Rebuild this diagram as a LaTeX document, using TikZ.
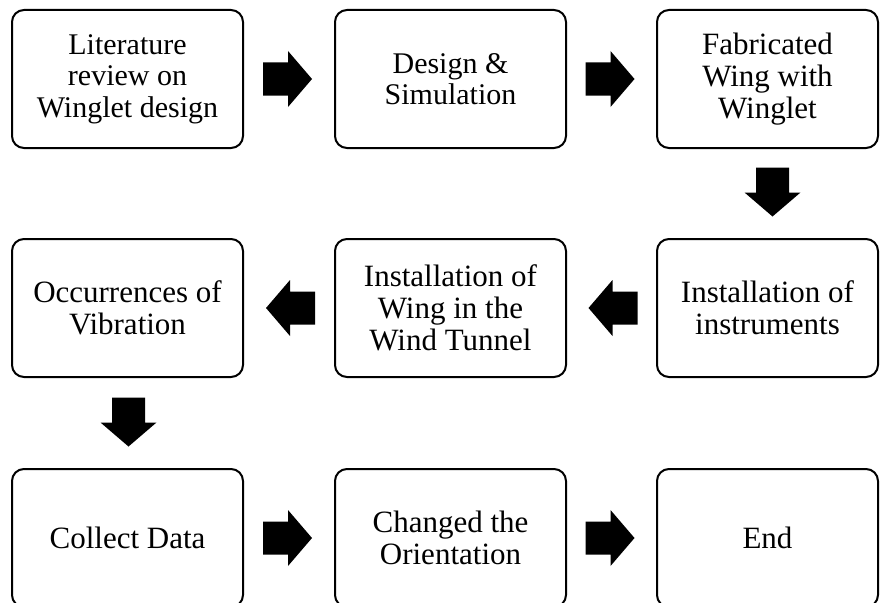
\documentclass[tikz,border=0pt]{standalone}
\usepackage{fontspec}
\setmainfont{Liberation Serif}
\usetikzlibrary{calc}

\tikzset{
  stage/.style={draw, line width=2pt, rounded corners=12pt, minimum width=231pt,
    minimum height=138pt, inner sep=0pt, align=center,
    font=\fontsize{31}{32}\selectfont},
  small/.style={font=\fontsize{30}{31.5}\selectfont},
  blockarrow/.pic={
    \fill (-24.5,-16.5) -- (0.5,-16.5) -- (0.5,-28) -- (24.5,0) -- (0.5,28)
      -- (0.5,16.5) -- (-24.5,16.5) -- cycle;
  }
}

\begin{document}
\begin{tikzpicture}[x=1pt,y=-1pt]
  \useasboundingbox (0,0) rectangle (880,602);

  % first row
  \node [stage,small] (lit) at (127.5,79) {Literature\\review on\\Winglet design};
  \node [stage,small] (design) at (450.5,79) {Design \&\\Simulation};
  \node [stage,minimum width=221pt] (fab) at (767.5,79) {Fabricated\\Wing with\\Winglet};

  % second row
  \node [stage,minimum width=221pt] (instr) at (767.5,308) {Installation of\\instruments};
  \node [stage] (wing) at (450.5,308) {Installation of\\Wing in the\\Wind Tunnel};
  \node [stage] (vib) at (127.5,308) {Occurrences of\\Vibration};

  % third row
  \node [stage] (data) at (127.5,538) {Collect Data};
  \node [stage] (orient) at (450.5,538) {Changed the\\Orientation};
  \node [stage,minimum width=221pt] (finish) at (767.5,538) {End};

  % arrows
  \pic at ($(lit.east)!0.5!(design.west)+(-1.5,0)$) {blockarrow};
  \pic at ($(design.east)!0.5!(fab.west)+(-1.5,0)$) {blockarrow};
  \pic [rotate=-90] at ($(fab.south)!0.5!(instr.north)+(5,-1.5)$) {blockarrow};
  \pic [rotate=180] at ($(instr.west)!0.5!(wing.east)+(1.5,0)$) {blockarrow};
  \pic [rotate=180] at ($(wing.west)!0.5!(vib.east)+(1.5,0)$) {blockarrow};
  \pic [rotate=-90] at ($(vib.south)!0.5!(data.north)+(1,-1)$) {blockarrow};
  \pic at ($(data.east)!0.5!(orient.west)+(-1.5,0)$) {blockarrow};
  \pic at ($(orient.east)!0.5!(finish.west)+(-1.5,0)$) {blockarrow};
\end{tikzpicture}
\end{document}
